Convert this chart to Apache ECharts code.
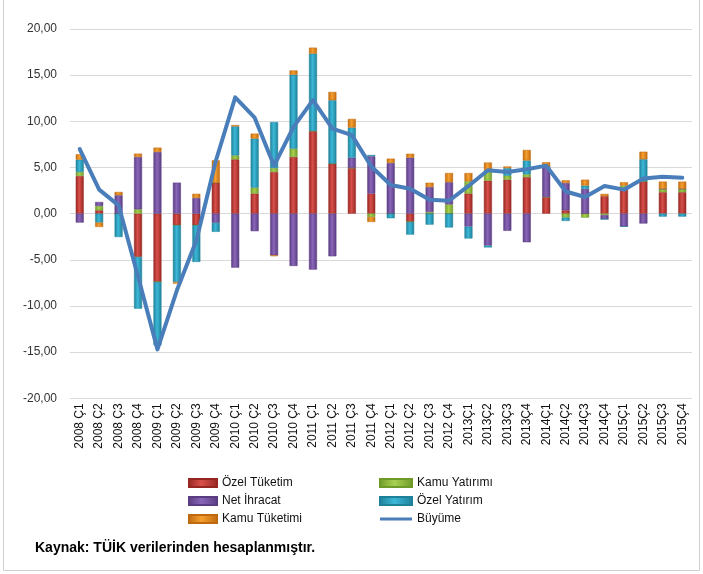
<!DOCTYPE html>
<html>
<head>
<meta charset="utf-8">
<script src="https://cdn.jsdelivr.net/npm/echarts@6/dist/echarts.min.js"></script>
<style>html,body{margin:0;padding:0;background:#fff}#c{width:703px;height:574px}</style>
</head>
<body>
<div id="c"></div>
<script>
var categories = ['2008 Ç1','2008 Ç2','2008 Ç3','2008 Ç4','2009 Ç1','2009 Ç2','2009 Ç3','2009 Ç4',
  '2010 Ç1','2010 Ç2','2010 Ç3','2010 Ç4','2011 Ç1','2011 Ç2','2011 Ç3','2011 Ç4',
  '2012 Ç1','2012 Ç2','2012 Ç3','2012 Ç4','2013Ç1','2013Ç2','2013Ç3','2013Ç4',
  '2014Ç1','2014Ç2','2014Ç3','2014Ç4','2015Ç1','2015Ç2','2015Ç3','2015Ç4'];
var ozelTuketim = [4.08,0.36,0,-4.69,-7.4,-1.26,-1.26,3.36,5.88,2.17,4.51,6.14,8.95,5.42,4.95,2.17,
  0,-0.9,0,0,2.18,3.57,3.68,3.96,1.79,0.36,0,1.89,2.79,3.5,2.32,2.32];
var kamuYatirimi = [0.43,0.47,0,0.47,0,0,0,0,0.43,0.65,0.43,0.9,0,0,0,-0.36,
  0,0,0.18,1.0,1.32,1.18,0.43,0.3,0,-0.43,-0.43,-0.15,0.25,0,0.36,0.36];
var netIhracat = [-0.97,0.43,1.99,5.67,6.68,3.36,1.7,-1.0,-5.85,-1.9,-4.51,-5.67,-6.06,-4.62,1.12,4.04,
  5.49,6.06,2.7,2.4,-1.4,-3.46,-1.86,-3.1,3.32,2.96,2.68,-0.45,-1.39,-1.07,0,0];
var ozelYatirim = [1.34,-0.97,-2.53,-5.6,-6.86,-6.14,-3.97,-0.97,3.14,5.31,4.98,8.0,8.38,6.86,3.25,0.14,
  -0.5,-1.37,-1.19,-1.5,-1.29,-0.2,0.82,1.5,0,-0.36,0.36,0,0,2.39,-0.32,-0.32];
var kamuTuketimi = [0.58,-0.47,0.36,0.36,0.47,-0.18,0.45,2.42,0.14,0.54,-0.1,0.47,0.65,0.9,0.94,-0.54,
  0.47,0.43,0.47,1.0,0.9,0.79,0.18,1.14,0.46,0.29,0.64,0.25,0.36,0.82,0.79,0.79];
var buyume = [7.0,2.6,0.9,-6.8,-14.7,-8.3,-2.9,5.7,12.6,10.4,5.2,9.4,12.3,9.2,8.5,5.1,
  3.1,2.7,1.5,1.4,3.0,4.7,4.5,4.8,5.2,2.4,1.8,3.0,2.6,3.8,4.0,3.9];
var yTicks = {min:-20, max:20, interval:5};

var chart = echarts.init(document.getElementById('c'), null, {renderer:'canvas'});
function grad(dark, light){
  return new echarts.graphic.LinearGradient(0,0,1,0,[
    {offset:0,color:dark},{offset:0.45,color:light},{offset:1,color:dark}]);
}
var narrow = "'Liberation Sans Narrow','Liberation Sans',sans-serif";
function bar(name, data, dark, light){
  return {name:name, type:'bar', stack:'s', data:data, barWidth:8,
    itemStyle:{color:grad(dark,light), borderColor:dark, borderWidth:0.5}};
}
var lineIcon = 'path://M0,0L0.01,0L0.01,0.01ZM0,2.6L32,2.6L32,5.4L0,5.4ZM31.99,8L32,8L32,7.99Z';
var legendText = {fontFamily:narrow, fontSize:12, color:'#111'};
var option = {
  animation:false,
  grid:{left:70, right:11, top:29, height:369.3, containLabel:false},
  xAxis:{type:'category', data:categories,
    axisLine:{show:false, onZero:false}, axisTick:{show:false},
    axisLabel:{rotate:90, margin:5, interval:0, fontFamily:"'Liberation Sans',sans-serif", fontSize:12, color:'#111'}},
  yAxis:{type:'value', min:yTicks.min, max:yTicks.max, interval:yTicks.interval,
    axisLine:{show:false}, axisTick:{show:false},
    splitLine:{lineStyle:{color:'#d9d9d9', width:1}},
    axisLabel:{margin:13, fontFamily:narrow, fontSize:12, color:'#333',
      formatter:function(v){return v.toFixed(2).replace('.',',');}}},
  legend:[
    {left:183, top:472, orient:'vertical', itemGap:6, itemWidth:28, itemHeight:8, textStyle:legendText,
     data:[{name:'Özel Tüketim',icon:'rect'},{name:'Net İhracat',icon:'rect'},{name:'Kamu Tüketimi',icon:'rect'}]},
    {left:374, top:472, orient:'vertical', itemGap:6, itemWidth:32, itemHeight:8, textStyle:legendText,
     data:[{name:'Kamu Yatırımı',icon:'rect'},{name:'Özel Yatırım',icon:'rect'},{name:'Büyüme',icon:lineIcon}]}
  ],
  graphic:[
    {type:'rect', shape:{x:3.5,y:-2,width:696,height:572.5}, style:{fill:'none', stroke:'#d0d0d0', lineWidth:1}, z:-1},
    {type:'text', left:35, top:541, style:{text:'Kaynak: TÜİK verilerinden hesaplanmıştır.',
      font:"bold 14px 'Liberation Sans',sans-serif", fill:'#000'}}
  ],
  series:[
    bar('Özel Tüketim', ozelTuketim, '#962622', '#d8504a'),
    bar('Kamu Yatırımı', kamuYatirimi, '#6e9a2a', '#a8d050'),
    bar('Net İhracat', netIhracat, '#5a3c82', '#8a66b8'),
    bar('Özel Yatırım', ozelYatirim, '#1f8099', '#3cb8d8'),
    bar('Kamu Tüketimi', kamuTuketimi, '#c06a10', '#f5a030'),
    {name:'Büyüme', type:'line', data:buyume, symbol:'none', z:10,
     lineStyle:{color:'#4a7ebb', width:4, join:'round', cap:'round'}, itemStyle:{color:'#4a7ebb'}}
  ]
};
chart.setOption(option);
</script>
</body>
</html>
